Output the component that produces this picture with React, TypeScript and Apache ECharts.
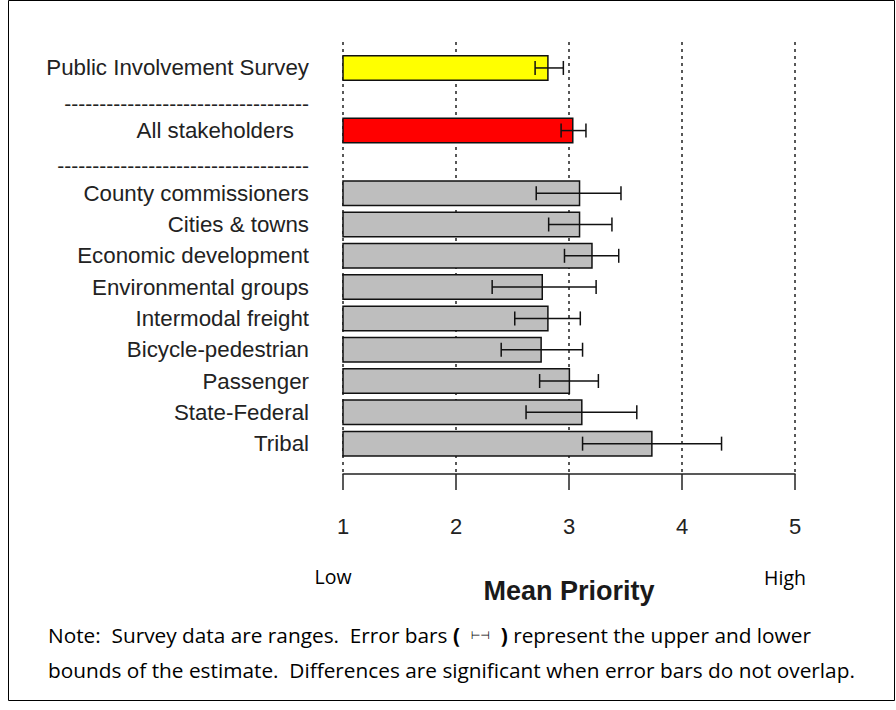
import React, { useEffect, useRef } from "react";
import * as echarts from "echarts";

const categories = [
  "Public Involvement Survey",
  "-----------------------------------",
  "All stakeholders",
  "------------------------------------",
  "County commissioners",
  "Cities & towns",
  "Economic development",
  "Environmental groups",
  "Intermodal freight",
  "Bicycle-pedestrian",
  "Passenger",
  "State-Federal",
  "Tribal",
];

const meanPriority = [2.82, null, 3.04, null, 3.1, 3.1, 3.21, 2.77, 2.82, 2.76, 3.01, 3.12, 3.74];
const lowerBound = [2.7, null, 2.93, null, 2.71, 2.82, 2.96, 2.32, 2.52, 2.4, 2.74, 2.62, 3.12];
const upperBound = [2.95, null, 3.15, null, 3.46, 3.38, 3.44, 3.24, 3.1, 3.12, 3.26, 3.6, 4.35];
const barGroup = ["survey", "sep", "all", "sep", "s", "s", "s", "s", "s", "s", "s", "s", "s"];

const xTicks = [1, 2, 3, 4, 5];
const axisTitle = "Mean Priority";
const lowLabel = "Low";
const highLabel = "High";
const noteLine1 = "Note:  Survey data are ranges.  Error bars ";
const noteLine1b = " represent the upper and lower";
const noteLine2 = "bounds of the estimate.  Differences are significant when error bars do not overlap.";

const groupColor: Record<string, string> = { survey: "#ffff00", all: "#ff0000", s: "#bebebe", sep: "#bebebe" };

const ARIAL = "'Liberation Sans', Arial, sans-serif";
const NOTE_FONT = "'Open Sans', sans-serif";
const NOTE_SIZE = 20.8;

export default function App() {
  const ref = useRef<HTMLDivElement>(null);
  useEffect(() => {
    if (!ref.current) return;
    const chart = echarts.init(ref.current, null, { renderer: "svg" });
    const barData = meanPriority.map((v, i) =>
      v == null ? "-" : { value: v, itemStyle: { color: groupColor[barGroup[i]] } }
    );
    const errData: any[] = [];
    meanPriority.forEach((v, i) => {
      if (v != null) errData.push([i, lowerBound[i], upperBound[i]]);
    });
    const option: any = {
      animation: false,
      backgroundColor: "#ffffff",
      grid: [
        { left: 343, right: 101, top: 52.3, bottom: 250.7 },
        { left: 343, right: 101, top: 42, bottom: 236 },
      ],
      xAxis: [
        { type: "value", gridIndex: 0, min: 1, max: 5, interval: 1, show: false },
        {
          type: "value",
          gridIndex: 1,
          min: 1,
          max: 5,
          interval: 1,
          axisLine: { show: true, lineStyle: { color: "#222", width: 1.5 } },
          axisTick: { show: true, length: 16, lineStyle: { color: "#222", width: 1.5 } },
          splitLine: { show: true, lineStyle: { color: "#222", width: 1.5, type: [3, 4] } },
          axisLabel: {
            margin: 41,
            fontSize: 22,
            fontFamily: ARIAL,
            color: "#222",
            formatter: (v: number) => (xTicks.includes(v) ? String(v) : ""),
          },
          name: axisTitle,
          nameLocation: "middle",
          nameGap: 103,
          nameTextStyle: { fontSize: 27, fontWeight: "bold", fontFamily: ARIAL, color: "#1a1a1a" },
        },
      ],
      yAxis: [
        {
          type: "category",
          gridIndex: 0,
          inverse: true,
          data: categories,
          axisLine: { show: false },
          axisTick: { show: false },
          splitLine: { show: false },
          axisLabel: {
            margin: 34,
            fontSize: 22.3,
            fontFamily: ARIAL,
            color: "#222",
            interval: 0,
            formatter: (v: string) =>
              v === "All stakeholders" ? "{pad|" + v + "}" : v.startsWith("---") ? "{dash|" + v + "}" : v,
            rich: {
              pad: { fontSize: 22.3, fontFamily: ARIAL, color: "#222", padding: [0, 15, 0, 0] },
              dash: { fontSize: 21, fontFamily: ARIAL, color: "#222", padding: [8, 0, 0, 0] },
            },
          },
        },
        { type: "value", gridIndex: 1, show: false, min: 0, max: 1 },
      ],
      series: [
        {
          type: "bar",
          xAxisIndex: 0,
          yAxisIndex: 0,
          data: barData,
          barWidth: 26,
          itemStyle: { borderColor: "#111", borderWidth: 1.5 },
          z: 3,
        },
        {
          type: "custom",
          xAxisIndex: 0,
          yAxisIndex: 0,
          data: errData,
          encode: { x: [1, 2], y: 0 },
          z: 4,
          renderItem: (params: any, api: any) => {
            const idx = api.value(0);
            const p1 = api.coord([api.value(1), idx]);
            const p2 = api.coord([api.value(2), idx]);
            const h = 7;
            const st = { stroke: "#111", lineWidth: 1.5 };
            return {
              type: "group",
              children: [
                { type: "line", shape: { x1: p1[0], y1: p1[1], x2: p2[0], y2: p2[1] }, style: st },
                { type: "line", shape: { x1: p1[0], y1: p1[1] - h, x2: p1[0], y2: p1[1] + h }, style: st },
                { type: "line", shape: { x1: p2[0], y1: p2[1] - h, x2: p2[0], y2: p2[1] + h }, style: st },
              ],
            };
          },
        },
      ],
      graphic: [
        {
          type: "rect",
          shape: { x: 8.5, y: 0.5, width: 886, height: 700 },
          style: { fill: "none", stroke: "#000", lineWidth: 1 },
          silent: true,
        },
        {
          type: "text",
          x: 333,
          y: 576,
          style: { text: lowLabel, fontSize: 19.5, fontFamily: NOTE_FONT, fill: "#000", align: "center", verticalAlign: "middle" },
        },
        {
          type: "text",
          x: 785,
          y: 577,
          style: { text: highLabel, fontSize: 19.5, fontFamily: NOTE_FONT, fill: "#000", align: "center", verticalAlign: "middle" },
        },
        {
          type: "text",
          x: 48,
          y: 635,
          style: {
            text: noteLine1 + "{b|(}  {s|⊢⊣}  {b|)}" + noteLine1b,
            fontSize: NOTE_SIZE,
            fontFamily: NOTE_FONT,
            fill: "#000",
            verticalAlign: "middle",
            rich: {
              b: { fontSize: NOTE_SIZE, fontWeight: "bold", fontFamily: NOTE_FONT, fill: "#000" },
              s: { fontSize: 11, fontFamily: "'DejaVu Sans', sans-serif", fill: "#000" },
            },
          },
        },
        {
          type: "text",
          x: 48,
          y: 670,
          style: { text: noteLine2, fontSize: NOTE_SIZE, fontFamily: NOTE_FONT, fill: "#000", verticalAlign: "middle" },
        },
      ],
    };
    chart.setOption(option);
    return () => chart.dispose();
  }, []);
  return (
    <div
      ref={ref}
      style={{ position: "fixed", left: 0, top: 0, width: 896, height: 710, background: "#fff" }}
    />
  );
}
